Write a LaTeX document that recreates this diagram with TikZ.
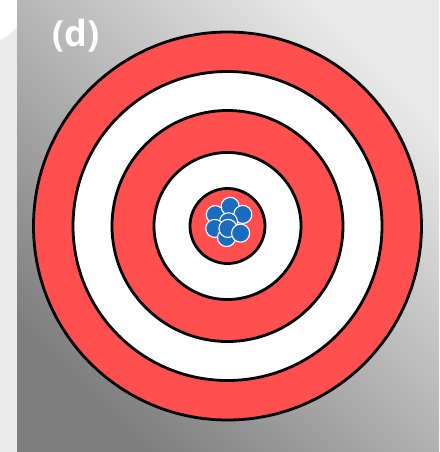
\documentclass[tikz,border=0pt]{standalone}
\usepackage{fontspec}
\newfontfamily\labelfont{Open Sans}
\definecolor{ringred}{HTML}{FF4F4F}
\definecolor{ballblue}{HTML}{1B6CBE}
\definecolor{outerbg}{HTML}{EBEBEB}
\definecolor{paneldark}{HTML}{7E7E7E}
\definecolor{panellight}{HTML}{E9E9E9}
\tikzset{
  ring/.style={draw=black, line width=2.8pt},
  ball/.style={fill=ballblue, draw=white, line width=1.1pt},
}
\begin{document}
\begin{tikzpicture}[x=1pt,y=-1pt]
\useasboundingbox (0,0) rectangle (439,452);
\fill[outerbg] (0,0) rectangle (439,452);
\fill[white] (-12,8) circle (34);
\shade[top color=panellight, bottom color=paneldark, shading angle=-45] (17,1) rectangle (439,452);
% target rings
\filldraw[ring, fill=ringred] (227.5,226) circle (194);
\filldraw[ring, fill=white] (227.5,226) circle (154.5);
\filldraw[ring, fill=ringred] (227.5,226) circle (115.5);
\filldraw[ring, fill=white] (227.5,226) circle (73.5);
\filldraw[ring, fill=ringred] (227.5,226) circle (37.5);
% cluster of balls
\begin{scope}[shift={(228.5,224)}, scale=1.1]
\filldraw[ball] (-12,-8.5) circle (8.2);
\filldraw[ball] (1.5,-16) circle (8.2);
\filldraw[ball] (13,-8.7) circle (8.2);
\filldraw[ball] (0,-2) circle (8.2);
\filldraw[ball] (-12.5,4) circle (8.2);
\filldraw[ball] (-1.8,12.3) circle (8.2);
\filldraw[ball] (-0.5,4) circle (8.2);
\filldraw[ball] (11,8.3) circle (8.2);
\end{scope}
\node[text=white, font=\labelfont\bfseries\fontsize{36}{40}\selectfont, inner sep=0pt] (label) at (76,36) {(d)};
\end{tikzpicture}
\end{document}
